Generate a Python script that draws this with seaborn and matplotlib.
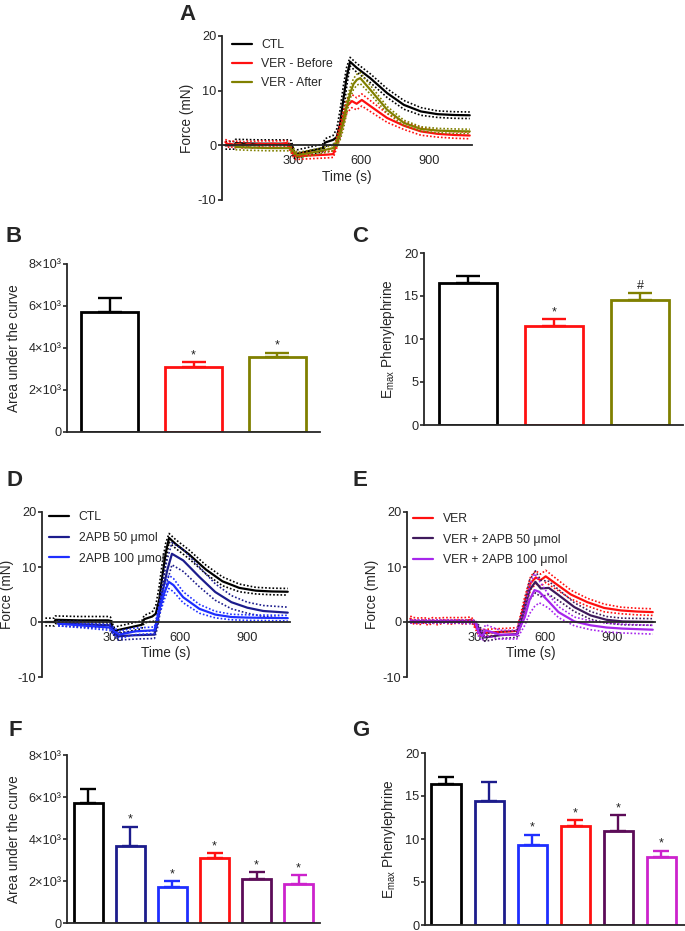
import numpy as np
import pandas as pd
import matplotlib
matplotlib.use("Agg")
import matplotlib.pyplot as plt
import seaborn as sns

# ---------------- data: time courses (time s, mean mN, SEM mN) ----------------
ctl_t = [0, 40, 45, 150, 280, 290, 305, 320, 430, 440, 476, 492, 507, 521, 536, 551, 580, 640, 715, 789, 864, 938, 1010, 1080]
ctl_m = [0, 0, 0.4, 0.3, 0.3, 0.2, -1.7, -1.5, -0.5, 0.5, 1.0, 1.5, 4.0, 8.3, 12.5, 15.3, 14.2, 12.3, 9.55, 7.4, 6.2, 5.7, 5.55, 5.5]
ctl_s = [0.7, 0.7, 0.7, 0.7, 0.7, 0.7, 0.7, 0.7, 0.7, 0.7, 0.8, 1.5, 2.5, 2.5, 1.8, 0.8, 0.8, 0.8, 0.8, 0.8, 0.7, 0.6, 0.6, 0.6]

verb_t = [0, 10, 20, 40, 60, 80, 100, 120, 150, 180, 210, 240, 270, 280, 300, 313, 350, 400, 450, 477, 492, 507, 521, 536, 559, 580, 603, 640, 715, 789, 864, 938, 1010, 1080]
verb_m = [0.6, 0.2, 0.3, 0.1, 0.3, 0.0, 0.3, 0.1, 0.3, 0.2, 0.3, 0.2, 0.4, 0.0, -1.5, -2.0, -1.9, -1.8, -1.7, -1.6, 0.5, 2.9, 5.0, 7.1, 8.1, 7.6, 8.3, 7.2, 5.0, 3.6, 2.55, 2.1, 1.9, 1.8]
verb_s = [0.5, 0.6, 0.5, 0.6, 0.5, 0.6, 0.5, 0.6, 0.5, 0.6, 0.5, 0.6, 0.5, 0.5, 0.6, 0.6, 0.6, 0.6, 0.6, 0.6, 1.0, 1.2, 1.2, 1.2, 1.2, 1.1, 1.1, 1.0, 0.8, 0.7, 0.7, 0.6, 0.6, 0.6]

vera_t = [45, 100, 200, 283, 300, 318, 400, 477, 492, 507, 521, 536, 551, 566, 581, 596, 640, 715, 789, 864, 938, 1010, 1080]
vera_m = [-0.3, -0.4, -0.5, -0.5, -1.0, -1.8, -1.2, -0.5, 0.5, 2.0, 4.1, 7.0, 9.5, 11.2, 12.0, 12.3, 10.2, 6.5, 4.1, 3.0, 2.7, 2.6, 2.55]
vera_s = [0.5, 0.5, 0.5, 0.5, 0.5, 0.5, 0.5, 0.5, 0.8, 1.0, 1.2, 1.2, 1.0, 1.0, 1.0, 1.0, 0.8, 0.6, 0.5, 0.4, 0.4, 0.4, 0.4]

apb50_t = [57, 150, 286, 300, 321, 400, 486, 500, 514, 529, 543, 564, 614, 686, 757, 829, 900, 971, 1080]
apb50_m = [-0.3, -0.4, -0.6, -1.5, -2.6, -2.4, -2.3, 0.0, 3.9, 6.8, 9.4, 12.4, 11.2, 8.2, 5.45, 3.6, 2.6, 2.0, 1.7]
apb50_s = [0.4, 0.5, 0.5, 0.6, 0.7, 0.7, 0.7, 1.0, 1.5, 2.0, 2.0, 2.0, 2.0, 1.8, 1.5, 1.2, 1.0, 1.0, 1.0]

apb100_t = [57, 150, 286, 310, 330, 400, 486, 507, 529, 550, 571, 614, 686, 757, 829, 900, 1080]
apb100_m = [-0.3, -0.6, -1.0, -1.8, -2.3, -1.7, -1.5, 2.1, 5.2, 7.3, 6.7, 4.5, 2.4, 1.35, 0.9, 0.8, 0.7]
apb100_s = [0.4, 0.4, 0.5, 0.6, 0.7, 0.6, 0.6, 1.0, 1.2, 1.2, 1.2, 1.0, 0.8, 0.6, 0.5, 0.5, 0.5]

v50_t = [0, 100, 200, 290, 310, 331, 400, 474, 503, 531, 557, 581, 617, 660, 731, 803, 874, 946, 1080]
v50_m = [0.1, 0.1, 0.1, 0.0, -1.5, -2.8, -2.4, -2.2, 1.5, 5.8, 7.3, 6.1, 6.2, 4.9, 2.7, 1.2, 0.4, 0.1, 0.0]
v50_s = [0.3, 0.3, 0.3, 0.3, 0.6, 0.7, 0.6, 0.6, 1.2, 1.8, 2.0, 1.5, 1.2, 1.0, 0.8, 0.7, 0.6, 0.6, 0.6]

v100_t = [0, 100, 200, 290, 305, 320, 335, 400, 474, 510, 531, 553, 574, 617, 660, 731, 803, 874, 946, 1080]
v100_m = [0.1, 0.1, 0.1, 0.0, -2.0, -2.6, -1.5, -2.3, -2.3, 0.9, 4.0, 5.8, 5.5, 3.7, 1.8, 0.1, -0.6, -1.0, -1.2, -1.4]
v100_s = [0.3, 0.3, 0.3, 0.3, 0.8, 0.8, 1.0, 0.8, 0.8, 1.5, 2.5, 3.0, 2.0, 1.2, 1.0, 0.8, 0.8, 0.8, 0.8, 0.8]

# ---------------- data: bar charts ----------------
b_groups = ["CTL", "VER - Before", "VER - After"]
b_auc = [5700, 3095, 3570]
b_auc_err = [680, 225, 205]
b_auc_marks = ["", "*", "*"]
c_emax = [16.5, 11.5, 14.5]
c_emax_err = [0.8, 0.77, 0.88]
c_marks = ["", "*", "#"]

f_groups = ["CTL", "2APB 50", "2APB 100", "VER", "VER + 2APB 50", "VER + 2APB 100"]
f_auc = [5700, 3690, 1700, 3090, 2085, 1846]
f_auc_err = [680, 890, 290, 220, 335, 430]
f_marks = ["", "*", "*", "*", "*", "*"]
g_emax = [16.45, 14.4, 9.3, 11.5, 10.9, 7.85]
g_emax_err = [0.8, 2.25, 1.2, 0.7, 1.85, 0.8]
g_marks = ["", "", "*", "*", "*", "*"]

auc_ticks = [0, 2000, 4000, 6000, 8000]
auc_ticklabels = ["0", "2×10³", "4×10³", "6×10³", "8×10³"]
emax_ticks = [0, 5, 10, 15, 20]
force_ticks = [-10, 0, 10, 20]
time_ticks = [300, 600, 900]

# ---------------- styling ----------------
sns.set_style("ticks")
plt.rcParams['font.family'] = ['Liberation Sans', 'DejaVu Sans']
plt.rcParams['mathtext.fontset'] = 'custom'
plt.rcParams['mathtext.rm'] = 'Liberation Sans'
plt.rcParams['mathtext.it'] = 'Liberation Sans:italic'
plt.rcParams['axes.linewidth'] = 1.3
plt.rcParams['axes.unicode_minus'] = False
FS = 9.2      # tick labels
LFS = 9.8     # axis labels
GFS = 8.8     # legend

C_CTL = "#000000"
C_VER = "#ff1010"
C_AFT = "#808000"
C_50 = "#1c1c8c"
C_100 = "#1f2fff"
C_V50 = "#3f1a5c"
C_V100 = "#a626ec"
C_V50_BAR = "#5c0c58"
C_V100_BAR = "#cc22cc"

W, H = 685, 931
fig = plt.figure(figsize=(W / 100, H / 100), dpi=100)


def add_ax(l, t, r, b):
    return fig.add_axes([l / W, 1 - b / H, (r - l) / W, (b - t) / H])


def trace(ax, t, m, s, color, label):
    df = pd.DataFrame({"t": t, "m": m,
                       "up": np.add(m, s), "lo": np.subtract(m, s)})
    for col in ("up", "lo"):
        sns.lineplot(data=df, x="t", y=col, ax=ax, color=color, lw=1.2,
                     linestyle=(0, (1, 1.2)))
    sns.lineplot(data=df, x="t", y="m", ax=ax, color=color, lw=1.6, label=label)


def time_axes(ax, legend_loc, spacing):
    ax.set_xlim(-15, 1090)
    ax.set_ylim(-10, 20)
    ax.spines[["top", "right"]].set_visible(False)
    ax.spines["bottom"].set_position(("data", 0))
    ax.set_xticks(time_ticks)
    ax.set_yticks(force_ticks)
    ax.tick_params(axis="x", length=0, pad=7, labelsize=FS)
    ax.tick_params(axis="y", length=3, width=1.2, pad=1, labelsize=FS)
    ax.set_xlabel("Time (s)", fontsize=LFS, labelpad=2)
    ax.set_ylabel("Force (mN)", fontsize=LFS, labelpad=3)
    ax.legend(loc="upper left", bbox_to_anchor=legend_loc, frameon=False,
              fontsize=GFS, handlelength=1.6, handletextpad=0.8,
              labelspacing=spacing, borderaxespad=0, borderpad=0)


def bars(ax, groups, vals, errs, colors, marks, ticks, ticklabels, ylabel,
         ylim, capsize, xlim):
    df = pd.DataFrame({"g": groups, "v": vals})
    sns.barplot(data=df, x="g", y="v", hue="g", palette=colors, fill=False,
                linewidth=2.0, width=0.68, legend=False, errorbar=None, ax=ax)
    for i, (v, e, c, mk) in enumerate(zip(vals, errs, colors, marks)):
        ax.errorbar(i, v, yerr=[[0], [e]], fmt="none", ecolor=c,
                    elinewidth=1.7, capsize=capsize, capthick=1.7)
        if mk:
            ax.text(i, v + e + ylim * 0.006, mk, ha="center", va="bottom",
                    fontsize=9, color="#222222")
    ax.set_ylim(0, ylim)
    ax.set_xlim(*xlim)
    ax.spines[["top", "right"]].set_visible(False)
    ax.set_xticks([])
    ax.set_xlabel("")
    ax.set_yticks(ticks)
    ax.set_yticklabels(ticklabels)
    ax.tick_params(axis="y", length=3, width=1.2, pad=1, labelsize=FS)
    ax.set_ylabel(ylabel, fontsize=LFS, labelpad=5)


# ---- A ----
axA = add_ax(222, 36, 472, 200)
trace(axA, ctl_t, ctl_m, ctl_s, C_CTL, "CTL")
trace(axA, verb_t, verb_m, verb_s, C_VER, "VER - Before")
trace(axA, vera_t, vera_m, vera_s, C_AFT, "VER - After")
time_axes(axA, (0.04, 0.98), 0.56)

# ---- B ----
axB = add_ax(67, 264, 320, 432)
bars(axB, b_groups, b_auc, b_auc_err, [C_CTL, C_VER, C_AFT], b_auc_marks,
     auc_ticks, auc_ticklabels, "Area under the curve", 8000, 8.3, (-0.51, 2.51))

# ---- C ----
axC = add_ax(424, 253, 683, 425)
bars(axC, b_groups, c_emax, c_emax_err, [C_CTL, C_VER, C_AFT], c_marks,
     emax_ticks, [str(v) for v in emax_ticks],
     r"E$_{\mathrm{max}}$ Phenylephrine", 20, 8.3, (-0.51, 2.5))

# ---- D ----
axD = add_ax(42, 512, 290, 677)
trace(axD, ctl_t, ctl_m, ctl_s, C_CTL, "CTL")
trace(axD, apb50_t, apb50_m, apb50_s, C_50, "2APB 50 μmol")
trace(axD, apb100_t, apb100_m, apb100_s, C_100, "2APB 100 μmol")
time_axes(axD, (0.03, 1.005), 0.72)

# ---- E ----
axE = add_ax(407, 512, 655, 677)
trace(axE, verb_t, verb_m, verb_s, C_VER, "VER")
trace(axE, v50_t, v50_m, v50_s, C_V50, "VER + 2APB 50 μmol")
trace(axE, v100_t, v100_m, v100_s, C_V100, "VER + 2APB 100 μmol")
time_axes(axE, (0.025, 0.995), 0.72)

# ---- F ----
axF = add_ax(67, 755, 320, 923)
bars(axF, f_groups, f_auc, f_auc_err,
     [C_CTL, C_50, C_100, C_VER, C_V50_BAR, C_V100_BAR], f_marks,
     auc_ticks, auc_ticklabels, "Area under the curve", 8000, 6.0, (-0.51, 5.51))

# ---- G ----
axG = add_ax(425, 753, 685, 925)
bars(axG, f_groups, g_emax, g_emax_err,
     [C_CTL, C_50, C_100, C_VER, C_V50_BAR, C_V100_BAR], g_marks,
     emax_ticks, [str(v) for v in emax_ticks],
     r"E$_{\mathrm{max}}$ Phenylephrine", 20, 6.0, (-0.49, 5.55))

# ---- panel letters ----
for letter, (px, py) in {"A": (188, 14), "B": (14, 236), "C": (360, 237),
                         "D": (14, 480), "E": (360, 480), "F": (15, 730),
                         "G": (361, 731)}.items():
    fig.text(px / W, 1 - py / H, letter, fontsize=16, fontweight="bold",
             ha="center", va="center")

fig.savefig("out.png", dpi=100)
